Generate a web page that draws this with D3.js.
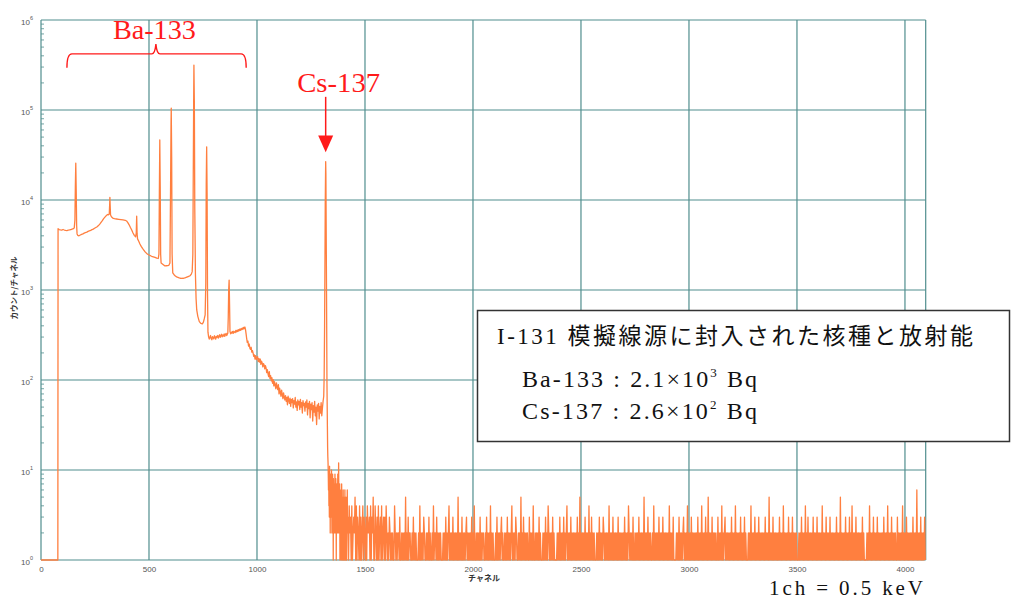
<!DOCTYPE html>
<html><head><meta charset="utf-8">
<script src="https://cdn.jsdelivr.net/npm/d3@7"></script>
<style>body{margin:0;background:#fff} svg{display:block}</style>
</head><body><svg id="c" width="1013" height="601"></svg>
<script>
// ---------- DATA ----------
// [channel, counts] for the Ba-133 / Cs-137 region
const headSpectrum = [
 [0,0],[78,0],[79,4800],[84,4700],[90,4650],[96,4620],[102,4700],[108,4640],[114,4600],[120,4580],[126,4620],[132,4650],[138,4700],[144,4750],[150,4800],[154,4900],
 [157,6000],[159,14000],[161,25700],[163,13000],[165,5200],[167,4200],[170,4050],[176,4000],[182,4080],[188,4150],[194,4200],[200,4280],[206,4350],[212,4400],
 [218,4480],[224,4550],[230,4600],[236,4680],[242,4750],[248,4850],[254,4950],[260,5050],[266,5200],[272,5400],[278,5650],[284,5900],[290,6200],[296,6450],
 [302,6700],[308,6900],[312,6850],[316,7000],[318,9000],[319,10700],[320,9000],[322,6800],[326,6500],[332,6300],[340,6200],[350,6150],[360,6100],[370,6050],
 [380,6000],[390,5950],[396,5850],[402,5600],[408,5300],[414,4950],[420,4640],[426,4300],[432,4050],[438,3900],[441,4300],[443,6600],[445,4200],[447,3700],
 [452,3500],[458,3250],[464,3050],[470,2900],[476,2780],[482,2650],[489,2550],[496,2480],[504,2420],[512,2370],[520,2340],[528,2300],[536,2260],[543,2240],
 [546,2500],[548,12000],[550,46400],[552,14000],[554,2500],[556,2000],[562,1950],[568,1900],[574,1850],[580,1860],[586,1870],[592,1880],[597,2000],
 [600,15000],[602,70000],[603,105000],[605,30000],[607,2500],[610,1550],[616,1480],[622,1430],[628,1400],[634,1380],[640,1360],[646,1350],[652,1345],
 [659,1350],[666,1360],[672,1380],[678,1400],[684,1420],[690,1440],[696,1500],[700,1600],[703,2500],[705,20000],[707,150000],[708,316000],[710,120000],
 [712,8000],[715,1500],[718,800],[721,600],[726,510],[733,446],[740,425],[747,420],[752,440],[756,480],[760,530],[763,1200],[765,15000],[767,39000],
 [769,12000],[771,900],[773,340],[776,302],[779,285],[782,296],[785,312],[788,288],[791,280],[794,303],[797,296],[800,286],[803,310],[806,300],[809,284],
 [812,305],[815,298],[818,312],[821,292],[824,306],[827,318],[830,298],[833,310],[836,322],[839,302],[842,316],[845,308],[848,326],[851,305],[854,320],
 [857,330],[860,312],[863,325],[865,332],[867,500],[869,1000],[871,1290],[873,700],[875,345],[878,326],[881,340],[884,332],[887,346],[890,330],[893,348],
 [896,340],[899,336],[902,355],[905,342],[908,358],[911,346],[914,362],[917,352],[920,368],[923,356],[926,372],[929,362],[932,378],[935,366],[938,384],
 [941,372],[944,388],[947,360],[950,320],
 [952,292],[955,262],[958,270],[961,238],[964,251],[967,226],[970,219],[973,231],[976,204],[979,212],
 [982,199],[985,183],[988,190],[991,171],[994,186],[997,169],[1000,178],[1003,181],[1006,160],[1009,173],
 [1012,158],[1015,171],[1018,149],[1021,162],[1024,155],[1027,140],[1030,152],[1033,147],[1036,133],[1039,144],
 [1042,136],[1045,121],[1048,130],[1051,117],[1054,109],[1057,124],[1060,104],[1063,112],[1066,98],[1069,106],
 [1072,92],[1075,101],[1078,86],[1081,96],[1084,88],[1087,80],[1090,93],[1093,84],[1096,78],[1099,89],
 [1102,70],[1105,81],[1108,73],[1111,66],[1114,77],[1117,69],[1120,62],[1123,72],[1126,65],[1129,60],
 [1132,67],[1135,58],[1138,64],[1141,53],[1144,66],[1147,60],[1150,55],[1153,63],[1156,51],[1159,61],
 [1162,56],[1165,62],[1168,49],[1171,59],[1174,54],[1177,64],[1180,50],[1183,57],[1186,46],[1189,60],
 [1192,53],[1195,58],[1198,47],[1201,61],[1204,50],[1207,56],[1210,43],[1213,59],[1216,52],[1219,55],
 [1222,45],[1225,57],[1228,50],[1231,60],[1234,41],[1237,55],[1240,48],[1243,58],[1246,38],[1249,54],
 [1252,47],[1255,56],[1258,35],[1261,52],[1264,44],[1267,58],[1270,40],[1273,50],[1276,32],[1279,53],
 [1282,45],[1285,55],[1288,37],[1291,51],[1294,43],[1297,56],[1300,40],[1303,49],[1306,58],[1309,66],
 [1311,110],[1313,400],[1315,3000],[1316,9000],[1318,26700],[1319,20000],[1320,7000],[1322,900],[1324,90],[1326,30],[1327,18]
];
// tail just after the Cs-137 peak, one value per channel
const nearStartChannel = 1328;
const nearCounts = [14,12,9,6,10,4,8,3,11,5,7,2,9,6,4,8,3,10,5,2,7,4,9,3,6,1,8,5,3,7,2,6,4,9,2,5,3,8,4,1,6,3,7,2,5,4,9,3,2,6,12,4,2,5,3,7,1,4,6,2,5,3,1,4,7,2,3,5,1,4,2,6,3,1,5,2,4,3,1,6,2,3,4,1,5,2,3,1,4,2,6,3,2];
// background tail, one value every 3 channels
const farStep = 3;
const farCounts =
 "314230412325041320413024132031422304132510420314023041230314" +
 "212032021201420212203102120215021302201203120210021402120320" +
 "120213021020412203120212001202130212402120312021205120213021" +
 "202312020213021410202120312022012031202140212001203120212302" +
 "102120312021240212032012021502130212021031202140120212031201" +
 "021203120421202130210012021302120312024021203120212021302150" +
 "212020312021402130212000212031202132021202140212031202120312" +
 "021202130212042021203102120213021202150212031202012140212021" +
 "302120312021202140212031001202130212023120214021203120212021" +
 "302120412021302150212031202120031202140212302120212031202140" +
 "212021302120312100212041202130212031202120213021205120213021" +
 "202120312021402120213021203120212000212031202140213021202130" +
 "212031202120412021302120312021202130212051202120312021302140" +
 "212031202120213021001202140212031202130212021203120214021203" +
 "120212013021202140212031202120213021206120213021203120212021" +
 "402120312021302120100212031202140212021302120312021204120213" +
 "021203120212021502130212031202120214021203120212013021202120";
const xTickValues = [0,500,1000,1500,2000,2500,3000,3500,4000];
const yDecades = [0,1,2,3,4,5,6];
const channelMax = 4096;

// ---------- BUILD SERIES ----------
const series = headSpectrum.map(d => ({ch:d[0], v:d[1]}));
nearCounts.forEach((v,i) => series.push({ch: nearStartChannel + i, v}));
const farStart = nearStartChannel + nearCounts.length;
farCounts.split("").forEach((c,i) => {
  const ch = farStart + i*farStep;
  if (ch < channelMax) series.push({ch, v:+c});
});

// ---------- CHART ----------
const svg = d3.select("#c");
const L = 41, R = 925.7, T = 20, B = 560;
const x = d3.scaleLinear().domain([0, channelMax]).range([L, R]);
const y = d3.scaleLog().domain([1, 1e6]).range([B, T]);
const grid = "#508e8e";

svg.append("defs").append("clipPath").attr("id","plot")
  .append("rect").attr("x",L).attr("y",T-1).attr("width",R-L+1).attr("height",B-T+2);

// minor ticks
const minor = [];
yDecades.slice(0,-1).forEach(d => { for (let m=2;m<=9;m++) minor.push(m*Math.pow(10,d)); });
svg.append("g").selectAll("line").data(minor).join("line")
  .attr("x1",L).attr("x2",L+3).attr("y1",d=>y(d)).attr("y2",d=>y(d))
  .attr("stroke",grid).attr("stroke-width",0.8);

// grid lines
svg.append("g").selectAll("line").data(yDecades).join("line")
  .attr("x1",L).attr("x2",R).attr("y1",d=>y(Math.pow(10,d))).attr("y2",d=>y(Math.pow(10,d)))
  .attr("stroke",grid).attr("stroke-width",1.2);
svg.append("g").selectAll("line").data(xTickValues.concat([channelMax])).join("line")
  .attr("x1",d=>x(d)).attr("x2",d=>x(d)).attr("y1",T).attr("y2",B)
  .attr("stroke",grid).attr("stroke-width",1.2);

// spectrum line
const line = d3.line().x(d=>x(d.ch)).y(d=>y(Math.max(d.v,1)));
svg.append("path").datum(series).attr("clip-path","url(#plot)")
  .attr("d",line).attr("fill","none").attr("stroke","#ff7f3f").attr("stroke-width",1.3)
  .attr("stroke-linejoin","round");

// axes labels
const xAxis = d3.axisBottom(x).tickValues(xTickValues).tickSize(0).tickPadding(6).tickFormat(d3.format("d"));
const gx = svg.append("g").attr("transform",`translate(0,${B})`).call(xAxis);
gx.select(".domain").remove();
gx.selectAll("text").attr("font-family","Liberation Sans, Arial, sans-serif").attr("font-size",8).attr("fill","#555");

const yAxis = d3.axisLeft(y).tickValues(yDecades.map(d=>Math.pow(10,d))).tickSize(0).tickPadding(8).tickFormat(()=> "");
const gy = svg.append("g").attr("transform",`translate(${L},0)`).call(yAxis);
gy.select(".domain").remove();
gy.selectAll("text").each(function(d){
  const t = d3.select(this).attr("font-family","Liberation Sans, Arial, sans-serif").attr("fill","#555")
    .attr("dy","0.55em").attr("font-size",8);
  t.append("tspan").text("10");
  t.append("tspan").attr("font-size",5.5).attr("dy","-0.9em").text(Math.round(Math.log10(d)));
});

svg.append("text").attr("x",484).attr("y",581).attr("text-anchor","middle")
  .attr("font-family","Noto Sans CJK JP, sans-serif").attr("font-size",8).attr("font-weight","bold").attr("fill","#333").text("チャネル");
svg.append("text").attr("transform","translate(17,288) rotate(-90)").attr("text-anchor","middle")
  .attr("font-family","Noto Sans CJK JP, sans-serif").attr("font-size",7.5).attr("font-weight","bold").attr("fill","#333").text("カウント/チャネル");

// ---------- ANNOTATIONS ----------
const red = "#ff1a1a";
const serif = "'Liberation Serif','Noto Sans CJK JP',serif";
// Ba-133 brace
const bL = x(120), bR = x(950), bM = x(532), bY = y(4.2e5), bE = y(2.95e5), bTip = y(5.4e5);
svg.append("path").attr("fill","none").attr("stroke",red).attr("stroke-width",1.4)
  .attr("d",`M${bL},${bE} Q${bL},${bY} ${bL+5},${bY} L${bM-4},${bY} Q${bM-1},${bY} ${bM},${bTip} Q${bM+1},${bY} ${bM+4},${bY} L${bR-5},${bY} Q${bR},${bY} ${bR},${bE}`);
svg.append("text").attr("x",x(525)).attr("y",39).attr("text-anchor","middle")
  .attr("font-family",serif).attr("font-size",28).attr("fill",red)
  .attr("textLength",83).attr("lengthAdjust","spacingAndGlyphs").text("Ba-133");
// Cs-137 arrow
const aX = x(1318);
svg.append("line").attr("x1",aX).attr("x2",aX).attr("y1",y(1.4e5)).attr("y2",y(5.2e4)+2)
  .attr("stroke",red).attr("stroke-width",1.5);
const triTop = y(5.2e4), triTip = y(3.4e4);
svg.append("path").attr("fill",red)
  .attr("d",`M${aX-7.5},${triTop} L${aX+7.5},${triTop} L${aX},${triTip} Z`);
svg.append("text").attr("x",aX+13).attr("y",92).attr("text-anchor","middle")
  .attr("font-family",serif).attr("font-size",28).attr("fill",red)
  .attr("textLength",83).attr("lengthAdjust","spacingAndGlyphs").text("Cs-137");

// info box
svg.append("rect").attr("x",477.5).attr("y",310.5).attr("width",532).attr("height",131)
  .attr("fill","#fff").attr("stroke","#333").attr("stroke-width",1.5);
svg.append("text").attr("x",497).attr("y",344).attr("font-family",serif).attr("font-size",23).attr("fill","#111")
  .attr("textLength",476).attr("lengthAdjust","spacing").text("I-131 模擬線源に封入された核種と放射能");
function infoLine(yy, name, mant, exp){
  const t = svg.append("text").attr("x",522).attr("y",yy).attr("font-family",serif).attr("font-size",24).attr("fill","#111");
  t.append("tspan").text(`${name} : ${mant}×10`);
  t.append("tspan").attr("font-size",13).attr("dy",-10).text(exp);
  t.append("tspan").attr("dy",10).text(" Bq");
  t.attr("textLength",235).attr("lengthAdjust","spacing");
}
infoLine(387, "Ba-133", "2.1", "3");
infoLine(419, "Cs-137", "2.6", "2");

svg.append("text").attr("x",769).attr("y",595).attr("font-family",serif).attr("font-size",21).attr("fill","#111")
  .attr("textLength",154).attr("lengthAdjust","spacing").text("1ch = 0.5 keV");
</script></body></html>
